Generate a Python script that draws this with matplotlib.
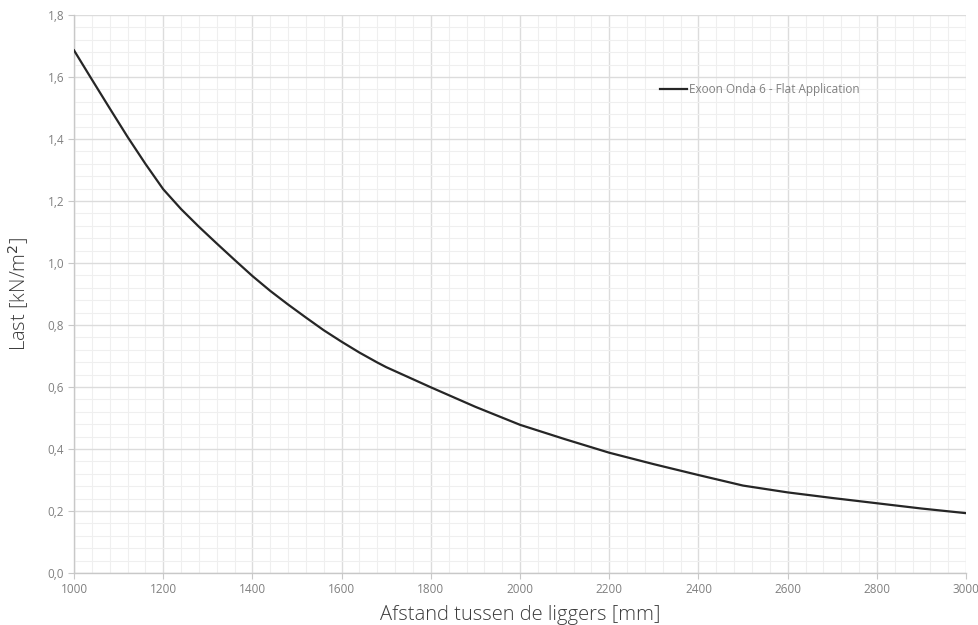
import matplotlib
matplotlib.use("Agg")
import matplotlib.pyplot as plt
from matplotlib.ticker import MultipleLocator, FuncFormatter

plt.rcParams['font.family'] = ['Open Sans', 'DejaVu Sans']

series_name = "Exoon Onda 6 - Flat Application"
spans_mm = [1000, 1040, 1080, 1120, 1160, 1200, 1240, 1280, 1320, 1360, 1400,
            1440, 1480, 1520, 1560, 1600, 1640, 1680, 1700, 1800, 1900, 2000,
            2100, 2200, 2300, 2400, 2500, 2600, 2700, 2800, 2900, 3000]
load_kn_m2 = [1.686, 1.592, 1.499, 1.407, 1.320, 1.238, 1.174, 1.117, 1.063, 1.010, 0.958,
              0.910, 0.866, 0.824, 0.783, 0.746, 0.711, 0.679, 0.664, 0.599, 0.536, 0.478,
              0.432, 0.388, 0.351, 0.316, 0.282, 0.260, 0.242, 0.225, 0.208, 0.193]
x_label = "Afstand tussen de liggers [mm]"
y_label = "Last [kN/m$^2$]"

fig = plt.figure(figsize=(9.79, 6.25), dpi=100)
ax = fig.add_axes([0.0756, 0.0832, 0.9112, 0.8928])

ax.plot(spans_mm, load_kn_m2, color='#262626', lw=1.6, label=series_name, zorder=3,
        solid_joinstyle='round')

ax.set_xlim(1000, 3000)
ax.set_ylim(0, 1.8)
ax.xaxis.set_major_locator(MultipleLocator(200))
ax.xaxis.set_minor_locator(MultipleLocator(40))
ax.yaxis.set_major_locator(MultipleLocator(0.2))
ax.yaxis.set_minor_locator(MultipleLocator(0.04))
ax.yaxis.set_major_formatter(FuncFormatter(lambda v, p: f"{v:.1f}".replace('.', ',')))

ax.grid(which='major', color='#dcdcdc', lw=1.0, zorder=0)
ax.grid(which='minor', color='#efefef', lw=0.8, zorder=0)
ax.set_axisbelow(True)

for s in ['top', 'right']:
    ax.spines[s].set_visible(False)
for s in ['left', 'bottom']:
    ax.spines[s].set_color('#c8c8c8')
    ax.spines[s].set_linewidth(1.0)

ax.tick_params(which='major', length=4, color='#c8c8c8', labelsize=8.5, labelcolor='#808080', pad=3)
ax.tick_params(which='minor', length=0)

ax.set_xlabel(x_label, fontsize=14.5, color='#3c3c3c', labelpad=7, fontweight=300)
ax.set_ylabel(y_label, fontsize=14.5, color='#3c3c3c', labelpad=12, fontweight=300)

leg = ax.legend(loc='center left', bbox_to_anchor=(0.645, 0.866), frameon=False,
                fontsize=8.5, handlelength=2.3, handletextpad=0.15)
for t in leg.get_texts():
    t.set_color('#808080')

fig.savefig("out.png", dpi=100, facecolor='white')
